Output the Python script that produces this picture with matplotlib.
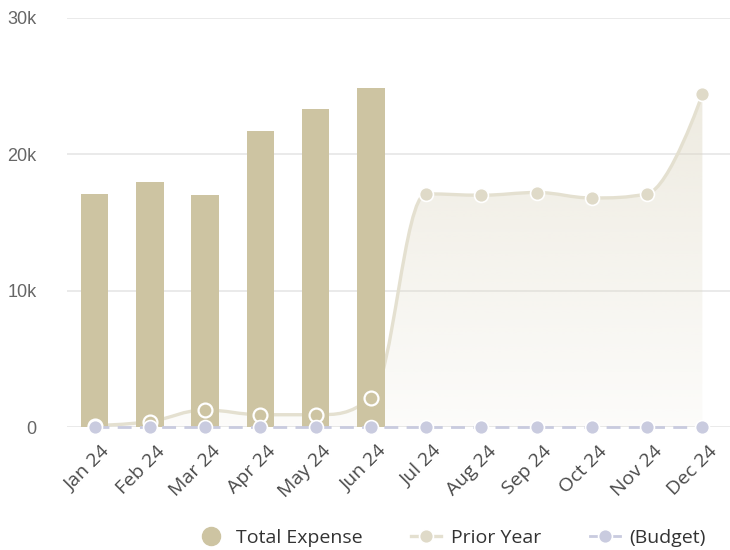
import numpy as np
import matplotlib
matplotlib.use("Agg")
import matplotlib.pyplot as plt
import matplotlib.transforms as mtransforms
from matplotlib.path import Path
from matplotlib.patches import PathPatch
from matplotlib.lines import Line2D

months = ["Jan 24", "Feb 24", "Mar 24", "Apr 24", "May 24", "Jun 24",
          "Jul 24", "Aug 24", "Sep 24", "Oct 24", "Nov 24", "Dec 24"]
total_expense = [17100, 18000, 17000, 21700, 23300, 24900]
prior_year = [100, 400, 1250, 900, 900, 2100,
              17100, 17000, 17200, 16800, 17100, 24400]
budget = [0] * 12
y_ticks = [0, 10000, 20000, 30000]
y_tick_labels = ["0", "10k", "20k", "30k"]

BAR = "#cdc4a2"
PRIOR = "#e4e0d0"
PRIOR_MK = "#dfdac8"
BUDGET = "#c9cbdf"
GRID = "#e6e6e6"


def spline_path(xs, ys, smoothing=1.5):
    """Cubic Bezier path through the points (spline-style smoothing)."""
    n = len(xs)
    left = [None] * n
    right = [None] * n
    denom = smoothing + 1
    for i in range(n):
        x, y = xs[i], ys[i]
        if 0 < i < n - 1:
            lx, ly = xs[i - 1], ys[i - 1]
            nx, ny = xs[i + 1], ys[i + 1]
            lcx = (smoothing * x + lx) / denom
            lcy = (smoothing * y + ly) / denom
            rcx = (smoothing * x + nx) / denom
            rcy = (smoothing * y + ny) / denom
            if rcx != lcx:
                corr = (rcy - lcy) * (rcx - x) / (rcx - lcx) + y - rcy
                lcy += corr
                rcy += corr
            if lcy > ly and lcy > y:
                lcy = max(ly, y)
                rcy = 2 * y - lcy
            elif lcy < ly and lcy < y:
                lcy = min(ly, y)
                rcy = 2 * y - lcy
            if rcy > ny and rcy > y:
                rcy = max(ny, y)
                lcy = 2 * y - rcy
            elif rcy < ny and rcy < y:
                rcy = min(ny, y)
                lcy = 2 * y - rcy
            left[i] = (lcx, lcy)
            right[i] = (rcx, rcy)
        else:
            left[i] = (x, y)
            right[i] = (x, y)
    verts = [(xs[0], ys[0])]
    codes = [Path.MOVETO]
    for i in range(1, n):
        verts += [right[i - 1], left[i], (xs[i], ys[i])]
        codes += [Path.CURVE4] * 3
    return verts, codes


fig = plt.figure(figsize=(7.3, 5.5), dpi=100)
ax = fig.add_axes([67 / 730, 123 / 550, 663 / 730, 409 / 550])
x = np.arange(len(months))

for s in ax.spines.values():
    s.set_visible(False)
ax.set_yticks(y_ticks)
ax.set_yticklabels(y_tick_labels, fontsize=13, color="#666666",
                   family=["Liberation Sans", "DejaVu Sans"])
ax.tick_params(axis="y", length=0, pad=22)
ax.yaxis.grid(True, color=GRID, linewidth=1.2, zorder=0)
ax.set_axisbelow(True)

ax.set_xticks(x)
ax.set_xticklabels(months, rotation=45, ha="right", va="top",
                   rotation_mode="anchor", fontsize=14, color="#4a4a4a",
                   family=["Open Sans", "DejaVu Sans"])
ax.tick_params(axis="x", length=0, pad=11)
offset = mtransforms.ScaledTranslation(6 / 100, 0, fig.dpi_scale_trans)
for lab in ax.get_xticklabels():
    lab.set_transform(lab.get_transform() + offset)

# prior-year area with vertical gradient
verts, codes = spline_path(list(x.astype(float)), [float(v) for v in prior_year])
area_verts = verts + [(x[-1], 0), (x[0], 0), (x[0], prior_year[0])]
area_codes = codes + [Path.LINETO, Path.LINETO, Path.CLOSEPOLY]
area = PathPatch(Path(area_verts, area_codes), facecolor="none", edgecolor="none")
ax.add_patch(area)
top = max(prior_year)
grad = np.zeros((256, 1, 4))
rgb = matplotlib.colors.to_rgb("#ddd7c2")
grad[..., 0], grad[..., 1], grad[..., 2] = rgb
grad[:, 0, 3] = np.linspace(0.5, 0.08, 256)
im = ax.imshow(grad, extent=[x[0], x[-1], 0, top], origin="upper",
               aspect="auto", zorder=1, interpolation="bilinear")
im.set_clip_path(area)
ax.set_xlim(-0.5, len(months) - 0.5)
ax.set_ylim(0, 30000)

line = PathPatch(Path(verts, codes), facecolor="none", edgecolor=PRIOR,
                 linewidth=2.4, zorder=2, capstyle="round")
ax.add_patch(line)

ax.bar(x[:len(total_expense)], total_expense, width=0.5, color=BAR, zorder=3)

n_bar = len(total_expense)
ax.plot(x[:n_bar], prior_year[:n_bar], linestyle="none", marker="o",
        markersize=10, markerfacecolor="none", markeredgecolor="white",
        markeredgewidth=1.6, zorder=4, clip_on=False)
ax.plot(x[n_bar:], prior_year[n_bar:], linestyle="none", marker="o",
        markersize=10, markerfacecolor=PRIOR_MK, markeredgecolor="white",
        markeredgewidth=1.2, zorder=4, clip_on=False)

ax.plot(x, budget, color=BUDGET, linewidth=2, dashes=(5, 3), zorder=5,
        marker="o", markersize=10, markerfacecolor=BUDGET,
        markeredgecolor="white", markeredgewidth=1.2, clip_on=False)

handles = [
    Line2D([], [], linestyle="none", marker="o", markersize=13,
           markerfacecolor=BAR, markeredgecolor=BAR),
    Line2D([], [], color=PRIOR, linewidth=2.4, marker="o", markersize=10,
           markerfacecolor=PRIOR_MK, markeredgecolor="white", markeredgewidth=1.2),
    Line2D([], [], color=BUDGET, linewidth=2, marker="o",
           markersize=10, markerfacecolor=BUDGET, markeredgecolor="white",
           markeredgewidth=1.2),
]
fig.legend(handles, ["Total Expense", "Prior Year", "(Budget)"],
           loc="center", bbox_to_anchor=(451 / 730, 12 / 550),
           ncol=3, frameon=False, handlelength=1.55, columnspacing=2.5,
           handletextpad=0.5,
           prop={"family": ["Open Sans", "DejaVu Sans"], "size": 14},
           labelcolor="#333333")

fig.savefig("out.png", dpi=100)
